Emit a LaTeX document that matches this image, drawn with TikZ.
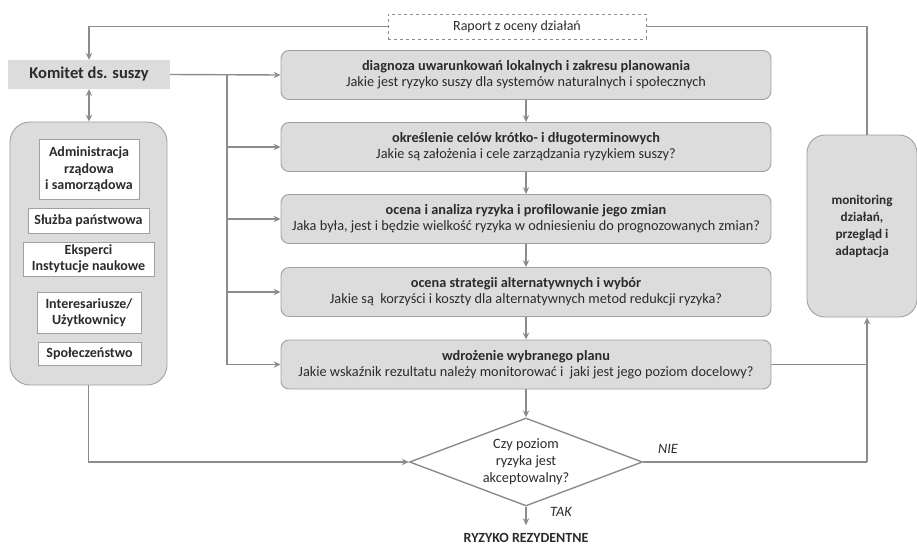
\documentclass[tikz,border=0pt]{standalone}
\usepackage{fontspec}
\setmainfont{Carlito}
\usetikzlibrary{arrows.meta,shapes.geometric}
\definecolor{boxfill}{HTML}{DCDCDC}
\definecolor{boxline}{HTML}{A0A0A0}
\definecolor{conn}{HTML}{8C8C8C}
\definecolor{txt}{HTML}{2B2B2B}
\begin{document}
\begin{tikzpicture}[x=1pt,y=-1pt,
  every node/.style={text=txt, inner sep=0pt, font=\fontsize{14.3}{16}\selectfont},
  stepbox/.style={draw=boxline, fill=boxfill, rounded corners=8pt, line width=0.9pt,
    minimum width=490pt, minimum height=49pt, align=center},
  whitebox/.style={draw=boxline, fill=white, line width=0.9pt, align=center,
    font=\fontsize{14}{16.5}\selectfont\bfseries},
  line/.style={draw=conn, line width=1.4pt},
  arr/.style={line, -{Stealth[length=7pt,width=6.5pt,inset=2.5pt]}},
  darr/.style={line, {Stealth[length=7pt,width=6.5pt,inset=2.5pt]}-{Stealth[length=7pt,width=6.5pt,inset=2.5pt]}}]
\useasboundingbox (0,0) rectangle (917,546);

% report
\node[draw=conn, dashed, line width=0.9pt, minimum width=258pt, minimum height=25pt,
  font=\fontsize{14}{16}\selectfont] (rap) at (517,26.5) {Raport z oceny działań};
% committee
\node[fill=boxfill, minimum width=162pt, minimum height=29pt,
  font=\fontsize{16.5}{19}\selectfont\bfseries] (kom) at (89,74.5) {Komitet ds. suszy};
% group
\node[draw=boxline, fill=boxfill, rounded corners=20pt, line width=0.9pt,
  minimum width=157pt, minimum height=263pt] (grp) at (88.5,253.5) {};
\node[whitebox, minimum width=100pt, minimum height=60pt] (adm) at (89,169.5)
  {Administracja\\rządowa\\i samorządowa};
\node[whitebox, minimum width=121pt, minimum height=25pt] (slu) at (88.5,221)
  {Służba państwowa};
\node[whitebox, minimum width=131pt, minimum height=34pt] (eks) at (88.5,259)
  {Eksperci\\Instytucje naukowe};
\node[whitebox, minimum width=104pt, minimum height=41pt] (int) at (89,312.5)
  {Interesariusze/\\Użytkownicy};
\node[whitebox, minimum width=103pt, minimum height=23pt] (spo) at (89.5,353.5)
  {Społeczeństwo};

% steps
\node[stepbox] (b1) at (526,75) {\textbf{diagnoza uwarunkowań lokalnych i zakresu planowania}\\Jakie jest ryzyko suszy dla systemów naturalnych i społecznych};
\node[stepbox] (b2) at (526,147) {\textbf{określenie celów krótko- i długoterminowych}\\Jakie są założenia i cele zarządzania ryzykiem suszy?};
\node[stepbox] (b3) at (526,219) {\textbf{ocena i analiza ryzyka i profilowanie jego zmian}\\Jaka była, jest i będzie wielkość ryzyka w odniesieniu do prognozowanych zmian?};
\node[stepbox] (b4) at (526,292) {\textbf{ocena strategii alternatywnych i wybór}\\Jakie są\ \ korzyści i koszty dla alternatywnych metod redukcji ryzyka?};
\node[stepbox] (b5) at (526,364.5) {\textbf{wdrożenie wybranego planu}\\Jakie wskaźnik rezultatu należy monitorować i\ \ jaki jest jego poziom docelowy?};

% monitoring
\node[draw=boxline, fill=boxfill, rounded corners=18pt, line width=0.9pt,
  minimum width=110pt, minimum height=182pt, align=center,
  font=\fontsize{13.2}{17}\selectfont\bfseries] (mon) at (862,226)
  {monitoring\\działań,\\przegląd i\\adaptacja};

% decision
\node[draw=conn, line width=1.4pt, shape=diamond, aspect=2.65, minimum width=233pt,
  minimum height=88pt, align=center, font=\fontsize{14.3}{17}\selectfont] (dia) at (526,462)
  {Czy poziom\\ryzyka jest\\akceptowalny?};
\node[font=\fontsize{14}{16}\selectfont\bfseries] (rr) at (526,538) {RYZYKO REZYDENTNE};
\node[font=\fontsize{14.3}{16}\selectfont\itshape] (nie) at (668,449) {NIE};
\node[font=\fontsize{14.3}{16}\selectfont\itshape] (tak) at (561,512) {TAK};

% coordinates
\coordinate (t1) at (227,74.5);
\coordinate (rc) at (867,462);
\coordinate (rt) at (867,26.5);

% connectors
\draw[arr] (rap.west) -| (kom.north);
\draw[line] (rap.east) -- (rt) -- (rt |- mon.north);
\draw[darr] (kom.south) -- (grp.north -| kom.south);
\draw[arr] (kom.east) -- (b1.west);
\draw[line] (t1) -- (t1 |- b5.west);
\draw[arr] (t1 |- b2.west) -- (b2.west);
\draw[arr] (t1 |- b3.west) -- (b3.west);
\draw[arr] (t1 |- b4.west) -- (b4.west);
\draw[arr] (t1 |- b5.west) -- (b5.west);
\draw[arr] (b1.south) -- (b2.north);
\draw[arr] (b2.south) -- (b3.north);
\draw[arr] (b3.south) -- (b4.north);
\draw[arr] (b4.south) -- (b5.north);
\draw[arr] (b5.south) -- (dia.north);
\draw[arr] (grp.south) |- (dia.west);
\draw[line] (dia.east) -- (rc);
\draw[arr] (rc) -- (rc |- mon.south);
\draw[line] (b5.east) -- (rc |- b5.east);
\draw[arr] (dia.south) -- ([yshift=8pt]rr.north);
\end{tikzpicture}
\end{document}
